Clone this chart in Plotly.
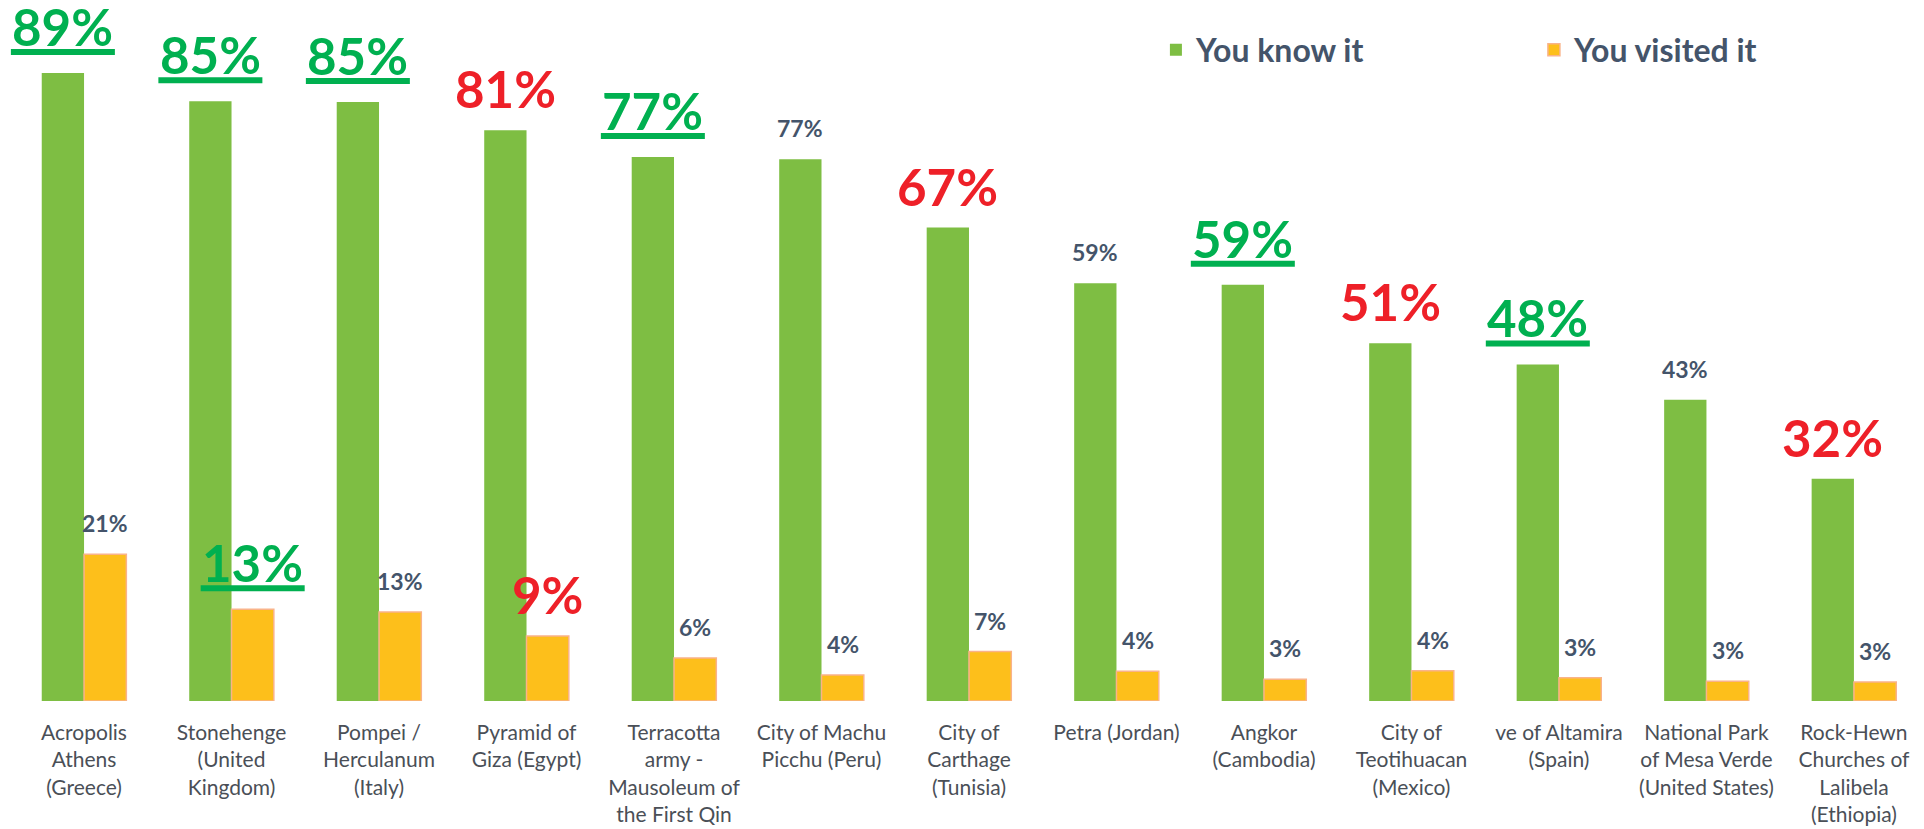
import plotly.graph_objects as go

categories = [
    "Acropolis<br>Athens<br>(Greece)",
    "Stonehenge<br>(United<br>Kingdom)",
    "Pompei /<br>Herculanum<br>(Italy)",
    "Pyramid of<br>Giza (Egypt)",
    "Terracotta<br>army -<br>Mausoleum of<br>the First Qin",
    "City of Machu<br>Picchu (Peru)",
    "City of<br>Carthage<br>(Tunisia)",
    "Petra (Jordan)",
    "Angkor<br>(Cambodia)",
    "City of<br>Teotihuacan<br>(Mexico)",
    "ve of Altamira<br>(Spain)",
    "National Park<br>of Mesa Verde<br>(United States)",
    "Rock-Hewn<br>Churches of<br>Lalibela<br>(Ethiopia)",
]
know = [89, 85, 84.9, 80.9, 77.1, 76.8, 67.1, 59.2, 59.0, 50.7, 47.7, 42.7, 31.5]
visited = [20.8, 13.0, 12.6, 9.2, 6.1, 3.7, 7.0, 4.2, 3.1, 4.3, 3.3, 2.8, 2.7]
know_labels = ["89%", "85%", "85%", "81%", "77%", "77%", "67%", "59%", "59%", "51%", "48%", "43%", "32%"]
visited_labels = ["21%", "13%", "13%", "9%", "6%", "4%", "7%", "4%", "3%", "4%", "3%", "3%", "3%"]
# label emphasis: "up" = green underlined, "down" = red, "" = normal
know_emph = ["up", "up", "up", "down", "up", "", "down", "", "up", "down", "up", "", "down"]
visited_emph = ["", "up", "", "down", "", "", "", "", "", "", "", "", ""]

GREEN = "#7EBE43"
ORANGE = "#FDBF1B"
ORANGE_LINE = "#F9B38A"
TEXT = "#44546A"
UP = "#00B050"
DOWN = "#EE2028"
FONT = "Lato"
BARGAP = 0.4264
OFF = (1 - BARGAP) / 4

fig = go.Figure()
fig.add_trace(go.Bar(x=categories, y=know, name="You know it",
                     marker=dict(color=GREEN, line=dict(width=0))))
fig.add_trace(go.Bar(x=categories, y=visited, name="You visited it",
                     marker=dict(color=ORANGE, line=dict(color=ORANGE_LINE, width=1.5))))

annotations = []
shapes = []
for series, labels, emph, sign in ((know, know_labels, know_emph, -1),
                                   (visited, visited_labels, visited_emph, 1)):
    for i, (v, lab, e) in enumerate(zip(series, labels, emph)):
        xpos = i + sign * OFF
        if e == "":
            font = dict(family=FONT, size=23, color=TEXT, weight="bold")
            ys = 15
        else:
            font = dict(family=FONT, size=51, color=UP if e == "up" else DOWN, weight="bold")
            ys = 9 if e == "down" else 14
        annotations.append(dict(x=xpos, y=v, xref="x", yref="y", text=lab,
                                showarrow=False, yanchor="bottom", yshift=ys,
                                font=font, captureevents=False))
        if e == "up":
            shapes.append(dict(type="rect", xref="x", yref="y",
                               xsizemode="pixel", ysizemode="pixel",
                               xanchor=xpos, yanchor=v,
                               x0=-52, x1=52, y0=18, y1=24,
                               fillcolor=UP, line=dict(width=0)))

fig.update_layout(
    width=1924, height=829,
    margin=dict(l=10, r=0, t=0, b=128, autoexpand=False),
    paper_bgcolor="white", plot_bgcolor="white",
    barmode="group", bargap=BARGAP, bargroupgap=0,
    font=dict(family=FONT, color=TEXT),
    annotations=annotations, shapes=shapes,
    legend=dict(orientation="h", x=0.5987, y=0.9287, xanchor="left", yanchor="middle",
                font=dict(family=FONT, size=32, color=TEXT, weight="bold"),
                entrywidth=333, bgcolor="rgba(0,0,0,0)"),
    xaxis=dict(range=[-0.502, 12.475], showgrid=False, showline=False,
               zeroline=False, ticks="", ticklabelstandoff=17, automargin=False,
               tickfont=dict(family=FONT, size=21, color="#4A4F57")),
    yaxis=dict(range=[0, 99.36], visible=False, showgrid=False, zeroline=False,
               automargin=False),
)
for tr in fig.data:
    tr.update(cliponaxis=False)

fig.write_html("out.html", config={"displayModeBar": False},
               post_script="document.body.style.margin='0';document.body.style.overflow='hidden';")
